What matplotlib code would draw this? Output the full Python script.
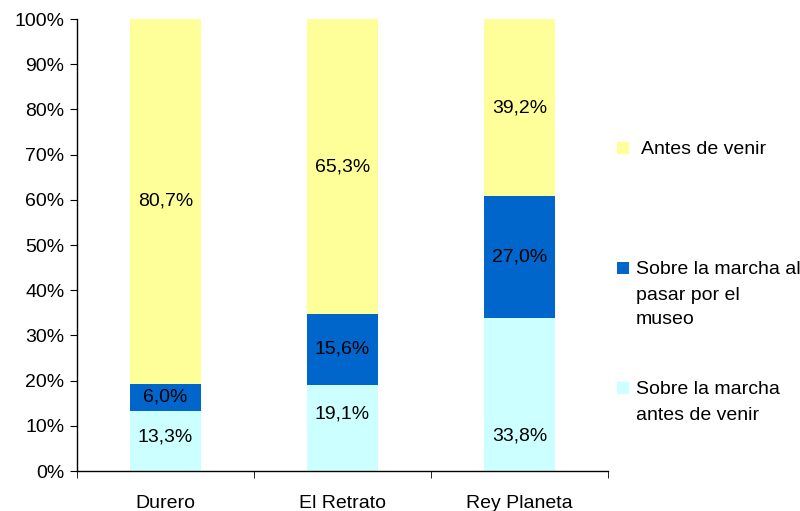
import matplotlib
matplotlib.use("Agg")
import matplotlib.pyplot as plt
from matplotlib.patches import Rectangle

plt.rcParams['font.family'] = ['Liberation Sans', 'DejaVu Sans']

categories = ["Durero", "El Retrato", "Rey Planeta"]
series_names = ["Sobre la marcha\nantes de venir", "Sobre la marcha al\npasar por el\nmuseo", "Antes de venir"]
sobre_antes = [13.3, 19.1, 33.8]
sobre_pasar = [6.0, 15.6, 27.0]
antes = [80.7, 65.3, 39.2]
colors = ["#CCFFFF", "#0066CC", "#FFFF99"]
yticklabels = [f"{v}%" for v in range(0, 101, 10)]
# label vertical positions for the bottom series (as in the original, not centred)
bottom_label_y = [7.5, 12.6, 7.7]

W, H = 800, 511
FS = 14
fig = plt.figure(figsize=(W/100, H/100), dpi=100)
ax = fig.add_axes([77/W, 1-471/H, (608-77)/W, (471-19)/H])

series = [sobre_antes, sobre_pasar, antes]
x = list(range(len(categories)))
bottom = [0.0]*len(categories)
for si, (vals, col) in enumerate(zip(series, colors)):
    ax.bar(x, vals, width=0.4, bottom=bottom, color=col, edgecolor='none')
    for i, (xi, v, b) in enumerate(zip(x, vals, bottom)):
        ly = bottom_label_y[i] if si == 0 else b + v/2
        ax.text(xi, ly, f"{v:.1f}".replace('.', ',') + "%", ha='center', va='center',
                fontsize=FS, color='black')
    bottom = [b + v for b, v in zip(bottom, vals)]

ax.set_xlim(-0.5, 2.5)
ax.set_ylim(0, 100)
ax.set_yticks(range(0, 101, 10))
ax.set_yticklabels(yticklabels, fontsize=FS)
ax.set_xticks(x)
ax.set_xticklabels(categories, fontsize=FS)
ax.set_xticks([-0.5, 0.5, 1.5, 2.5], minor=True)
ax.tick_params(axis='x', which='major', length=0, pad=17)
ax.tick_params(axis='x', which='minor', length=5, direction='out')
ax.tick_params(axis='y', length=5, direction='out', pad=4)
for s in ['top', 'right']:
    ax.spines[s].set_visible(False)
for s in ['left', 'bottom']:
    ax.spines[s].set_linewidth(1.0)

# legend
leg_items = [(2, 148, 641), (1, 268, 636), (0, 388, 636)]
for idx, yc, tx in leg_items:
    fig.patches.append(Rectangle((617/W, 1-(yc+6)/H), 12/W, 12/H, transform=fig.transFigure,
                                 facecolor=colors[idx], edgecolor='none'))
    for k, line in enumerate(series_names[idx].split("\n")):
        fig.text(tx/W, 1-(yc + 25*k)/H, line, ha='left', va='center_baseline', fontsize=FS)

fig.savefig("out.png", dpi=100)
